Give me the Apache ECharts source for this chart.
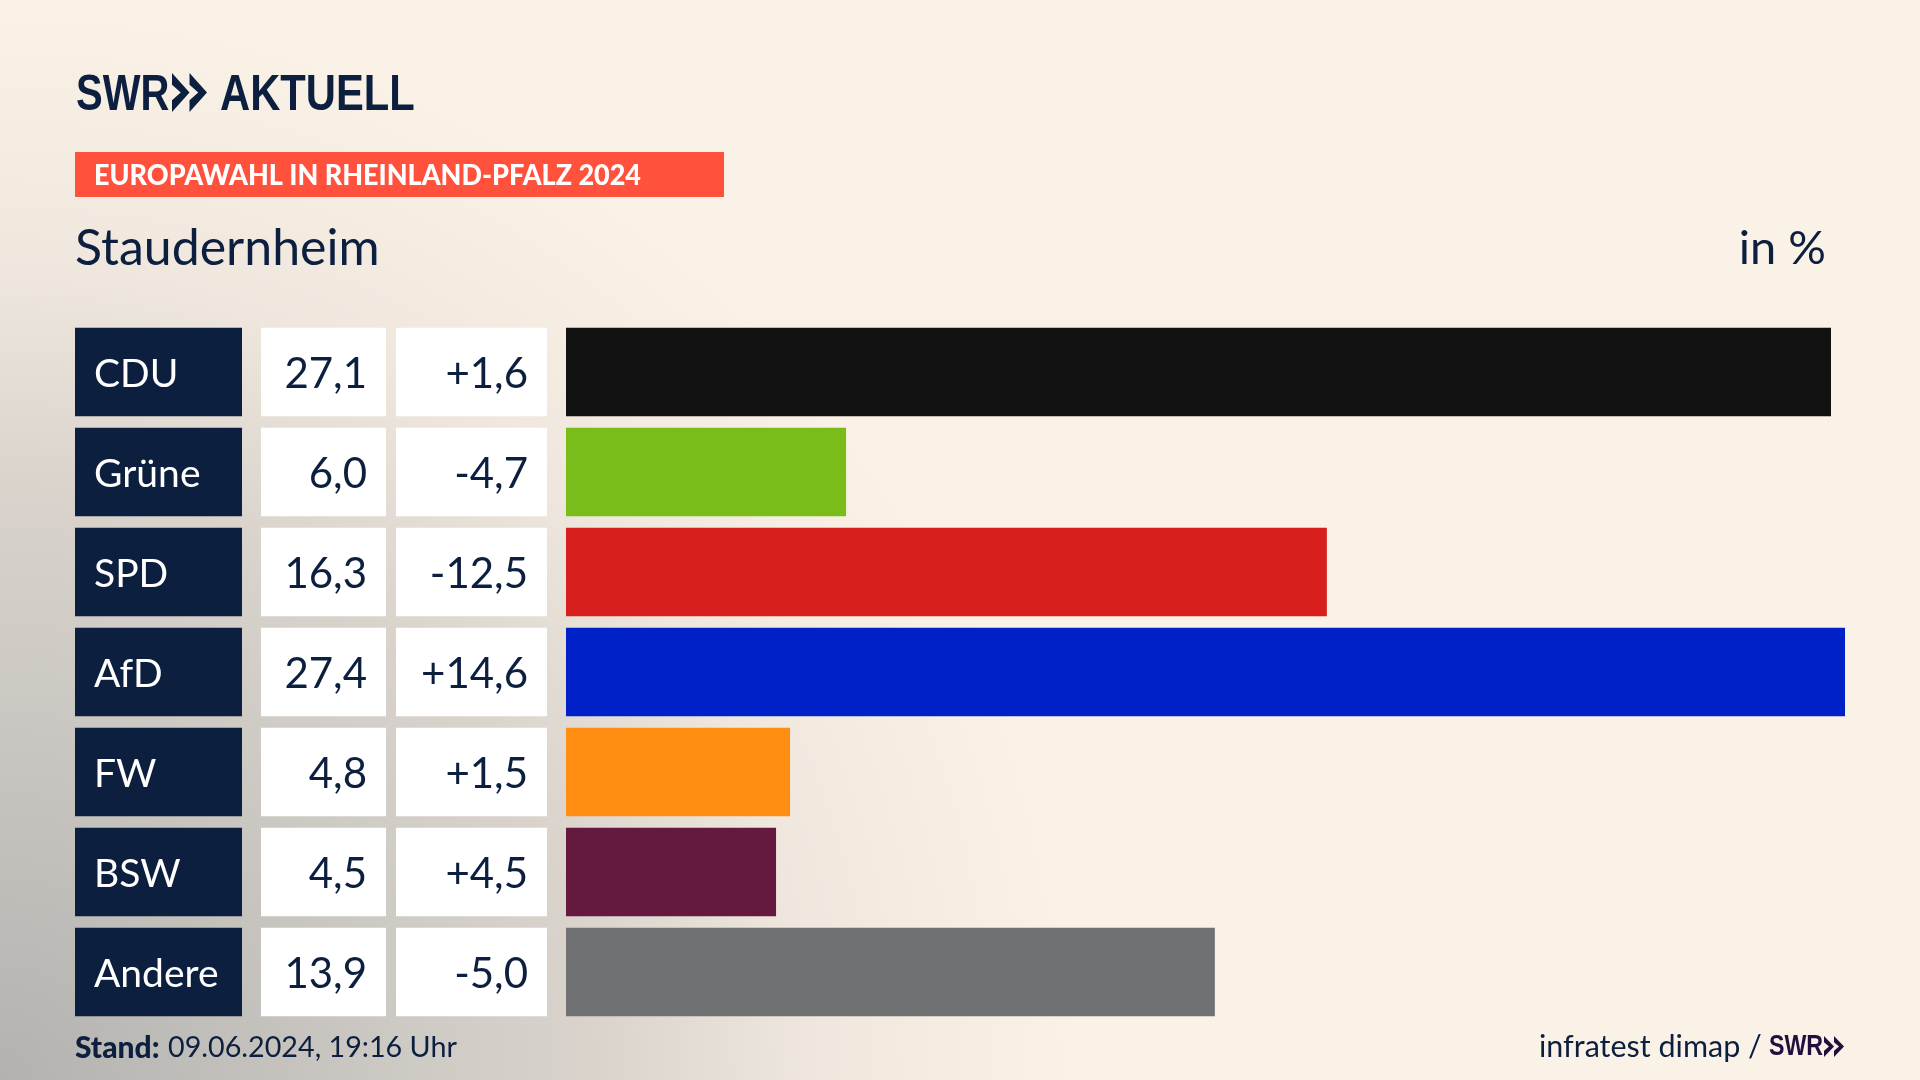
<!DOCTYPE html>
<html lang="de">
<head>
<meta charset="utf-8">
<title>Europawahl in Rheinland-Pfalz 2024 - Staudernheim</title>
<script src="https://cdn.jsdelivr.net/npm/echarts@6/dist/echarts.min.js"></script>
<style>
    html, body {margin: 0; padding: 0;}
    #divChart {width: 1920px; height: 1080px;}
</style>
</head>
<body>
<div id="divChart"></div>
<script>
let parties = ['CDU', 'Grüne', 'SPD', 'AfD', 'FW', 'BSW', 'Andere'];
let shares = [27.1, 6.0, 16.3, 27.4, 4.8, 4.5, 13.9];
let changes = [1.6, -4.7, -12.5, 14.6, 1.5, 4.5, -5.0];
let partyColors = ['#121212', '#7abd1a', '#d71f1d', '#0021c8', '#ff8e13', '#65193e', '#707173'];

const NAVY = '#0c1f3f';
const FONT = 'Lato, "Noto Sans", sans-serif';
const LOGO_FONT = '"Liberation Sans", sans-serif';

function formatShare(v) {
    return v.toFixed(1).replace('.', ',');
}

function formatChange(v) {
    return (v > 0 ? '+' : '') + v.toFixed(1).replace('.', ',');
}

// one narrow grid per table column, the cells are full width bars
function buildCellColumn(index, left, width, cellColor, textColor, position, texts, fontSize) {
    return {
        grid: {left: left, width: width, top: 322, height: 700},
        xAxis: {gridIndex: index, type: 'value', min: 0, max: 1, show: false},
        yAxis: {gridIndex: index, type: 'category', inverse: true, data: parties, show: false},
        series: {
            type: 'bar',
            silent: true,
            xAxisIndex: index,
            yAxisIndex: index,
            barWidth: 88.5,
            itemStyle: {color: cellColor},
            label: {
                show: true,
                position: position,
                distance: 19,
                offset: [0, 2],
                color: textColor,
                fontFamily: FONT,
                fontSize: fontSize,
                formatter: p => texts[p.dataIndex]
            },
            data: parties.map(() => 1)
        }
    };
}

function chevrons(x, y, w, h, color) {
    // the two arrows of the SWR logo
    let shapes = [];
    [0, w].forEach(dx => {
        shapes.push({
            type: 'polygon',
            silent: true,
            shape: {
                points: [
                    [x + dx, y], [x + dx + w, y + h / 2], [x + dx, y + h], [x + dx, y + h * 0.7],
                    [x + dx + w * 0.5, y + h / 2], [x + dx, y + h * 0.3]
                ]
            },
            style: {fill: color}
        });
    });
    return shapes;
}

function text(x, y, str, size, opts, scaleX) {
    return {
        type: 'text',
        silent: true,
        x: x,
        y: y,
        scaleX: scaleX || 1,
        style: Object.assign({
            text: str,
            fontSize: size,
            fontFamily: FONT,
            fill: NAVY,
            textVerticalAlign: 'middle'
        }, opts || {})
    };
}

let columns = [
    buildCellColumn(0, 75, 167, NAVY, '#ffffff', 'insideLeft', parties, 39),
    buildCellColumn(1, 261, 125, '#ffffff', NAVY, 'insideRight', shares.map(formatShare), 42),
    buildCellColumn(2, 396, 151, '#ffffff', NAVY, 'insideRight', changes.map(formatChange), 42)
];

let myChart = echarts.init(document.getElementById('divChart'));

let option = {
    animation: false,
    backgroundColor: new echarts.graphic.RadialGradient(0, 1, 1.0, [
        {offset: 0, color: '#b3b2af'},
        {offset: 0.3, color: '#c8c5c0'},
        {offset: 0.55, color: '#d9d3cc'},
        {offset: 0.75, color: '#efe7dd'},
        {offset: 1, color: '#fbf2e7'}
    ]),
    grid: columns.map(c => c.grid).concat([{left: 566, width: 1279, top: 322, height: 700}]),
    xAxis: columns.map(c => c.xAxis).concat([{gridIndex: 3, type: 'value', min: 0, max: 27.4, show: false}]),
    yAxis: columns.map(c => c.yAxis).concat([{gridIndex: 3, type: 'category', inverse: true, data: parties, show: false}]),
    series: columns.map(c => c.series).concat([{
        name: 'Stimmenanteil in %',
        type: 'bar',
        xAxisIndex: 3,
        yAxisIndex: 3,
        barWidth: 88.5,
        data: shares.map((v, i) => ({value: v, itemStyle: {color: partyColors[i]}}))
    }]),
    graphic: [
        // Kopf
        text(76, 96, 'SWR', 50, {fontFamily: LOGO_FONT, fontWeight: 'bold'}, 0.8),
        text(220, 96, 'AKTUELL', 50, {fontFamily: LOGO_FONT, fontWeight: 'bold'}, 0.835),
        ...chevrons(172, 73, 17.5, 39, NAVY),
        {type: 'rect', silent: true, shape: {x: 75, y: 152, width: 649, height: 45}, style: {fill: '#ff513c'}},
        text(94, 176, 'EUROPAWAHL IN RHEINLAND-PFALZ 2024', 29, {fontWeight: 900, fill: '#ffffff'}, 0.93),
        text(75, 249, 'Staudernheim', 50),
        text(1826, 249, 'in %', 47, {textAlign: 'right'}),
        // Fuss
        text(75, 1048, 'Stand:', 30, {fontWeight: 900}),
        text(168, 1048, '09.06.2024, 19:16 Uhr', 28.7),
        text(1539, 1047, 'infratest dimap /', 30.5),
        text(1769, 1047, 'SWR', 29, {fontFamily: LOGO_FONT, fontWeight: 'bold', fill: '#220f3f'}, 0.8),
        ...chevrons(1824, 1036, 10, 21, '#220f3f')
    ]
};

myChart.setOption(option);
</script>
</body>
</html>
